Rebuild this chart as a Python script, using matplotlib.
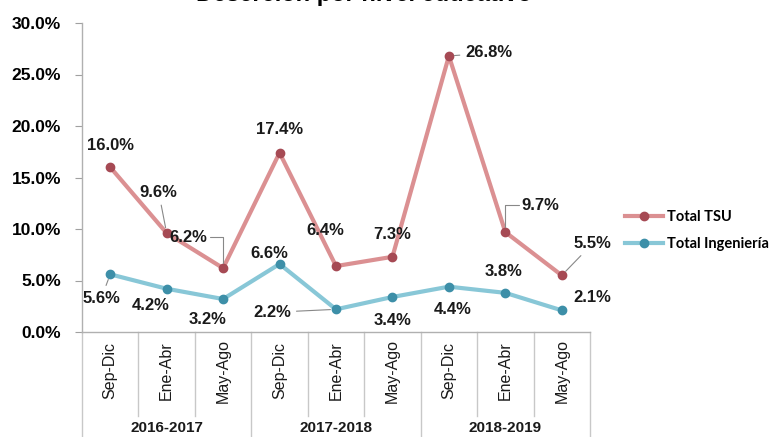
import matplotlib.pyplot as plt
import matplotlib.transforms as mtransforms

# Data
periodos = ['Sep-Dic', 'Ene-Abr', 'May-Ago'] * 3
ciclos = ['2016-2017', '2017-2018', '2018-2019']
total_tsu = [16.0, 9.6, 6.2, 17.4, 6.4, 7.3, 26.8, 9.7, 5.5]
total_ing = [5.6, 4.2, 3.2, 6.6, 2.2, 3.4, 4.4, 3.8, 2.1]

# label offsets in pixels (dx, dy) and whether a leader line is drawn
tsu_offsets = [(0, 22), (-8, 41), (-35, 31), (0, 23), (-11, 36),
               (0, 22), (40, 3), (35, 27), (31, 32)]
tsu_leader = [None, 'straight', 'elbowA', None, None,
              None, 'straight', 'elbowB', 'straight']
ing_offsets = [(-9, -24), (-16, -17), (-16, -20), (-10, 11), (-64, -3),
               (0, -24), (4, -23), (-2, 21), (31, 13)]
ing_leader = ['straight', None, None, None, 'straight',
              None, None, None, None]

TSU_LINE, TSU_MARK = '#DB9092', '#A64A54'
ING_LINE, ING_MARK = '#88C7D7', '#3D8FA8'

plt.rcParams['font.family'] = ['Liberation Sans', 'DejaVu Sans']

fig = plt.figure(figsize=(7.75, 4.37), dpi=100)
ax = fig.add_axes([82 / 775, 1 - 332 / 437, 508 / 775, 309 / 437])

x = list(range(len(periodos)))
ax.plot(x, total_tsu, color=TSU_LINE, lw=3, marker='o', ms=6,
        mfc=TSU_MARK, mec=TSU_MARK, label='Total TSU', zorder=3)
ax.plot(x, total_ing, color=ING_LINE, lw=3, marker='o', ms=6,
        mfc=ING_MARK, mec=ING_MARK, label='Total Ingeniería', zorder=3)

ax.set_xlim(-0.5, len(periodos) - 0.5)
ax.set_ylim(0, 30)
ax.set_yticks([0, 5, 10, 15, 20, 25, 30])
ax.set_yticklabels([f'{v:.1f}%' for v in ax.get_yticks()],
                   fontsize=12.5, fontweight='bold')
ax.tick_params(axis='y', length=5, color='#A0A0A0', pad=10)
ax.set_xticks([])
for s in ['top', 'right']:
    ax.spines[s].set_visible(False)
for s in ['left', 'bottom']:
    ax.spines[s].set_color('#B0B0B0')
    ax.spines[s].set_linewidth(1)


def add_labels(values, offsets, leaders):
    for i, (v, (dx, dy), ld) in enumerate(zip(values, offsets, leaders)):
        arrow = None
        if ld == 'straight':
            arrow = dict(arrowstyle='-', color='#888888', lw=0.8,
                         shrinkA=2, shrinkB=4)
        elif ld == 'elbowA':
            arrow = dict(arrowstyle='-', color='#888888', lw=0.8,
                         shrinkA=0, shrinkB=4,
                         connectionstyle='angle,angleA=0,angleB=90,rad=0')
        elif ld == 'elbowB':
            arrow = dict(arrowstyle='-', color='#888888', lw=0.8,
                         shrinkA=0, shrinkB=4,
                         connectionstyle='angle,angleA=180,angleB=90,rad=0')
        ax.annotate(f'{v:.1f}%', xy=(i, v), xytext=(dx, dy),
                    textcoords='offset pixels', ha='center', va='center',
                    fontsize=12, fontweight='bold', color='#1a1a1a',
                    arrowprops=arrow, zorder=4)


add_labels(total_tsu, tsu_offsets, tsu_leader)
add_labels(total_ing, ing_offsets, ing_leader)

# category axis below
trans = mtransforms.blended_transform_factory(ax.transData, ax.transAxes)
for i, p in enumerate(periodos):
    ax.text(i, -0.126, p, rotation=90, ha='center', va='center',
            fontsize=11.5, transform=trans, color='#1a1a1a')
for k in range(len(periodos) + 1):
    bottom = -0.34 if k % 3 == 0 else -0.272
    ax.plot([k - 0.5, k - 0.5], [0, bottom], color='#C8C8C8', lw=1,
            transform=trans, clip_on=False)
for g, c in enumerate(ciclos):
    ax.text(3 * g + 1, -0.311, c, ha='center', va='center', fontsize=11,
            fontweight='bold', transform=trans, color='#1a1a1a')

# legend
leg = fig.legend(loc='upper left', bbox_to_anchor=(612 / 775, 1 - 197 / 437),
                 frameon=False, handlelength=2.6, handletextpad=0.3,
                 labelspacing=0.9, prop={'family': 'Lato', 'weight': 'bold',
                                         'size': 10.5})

# title (cut at the top in the original)
fig.text(0.47, 1 - 1.5 / 437, 'Deserción por nivel educativo', ha='center',
         va='baseline', fontsize=17, fontweight='bold')

fig.savefig('out.png', dpi=100)
